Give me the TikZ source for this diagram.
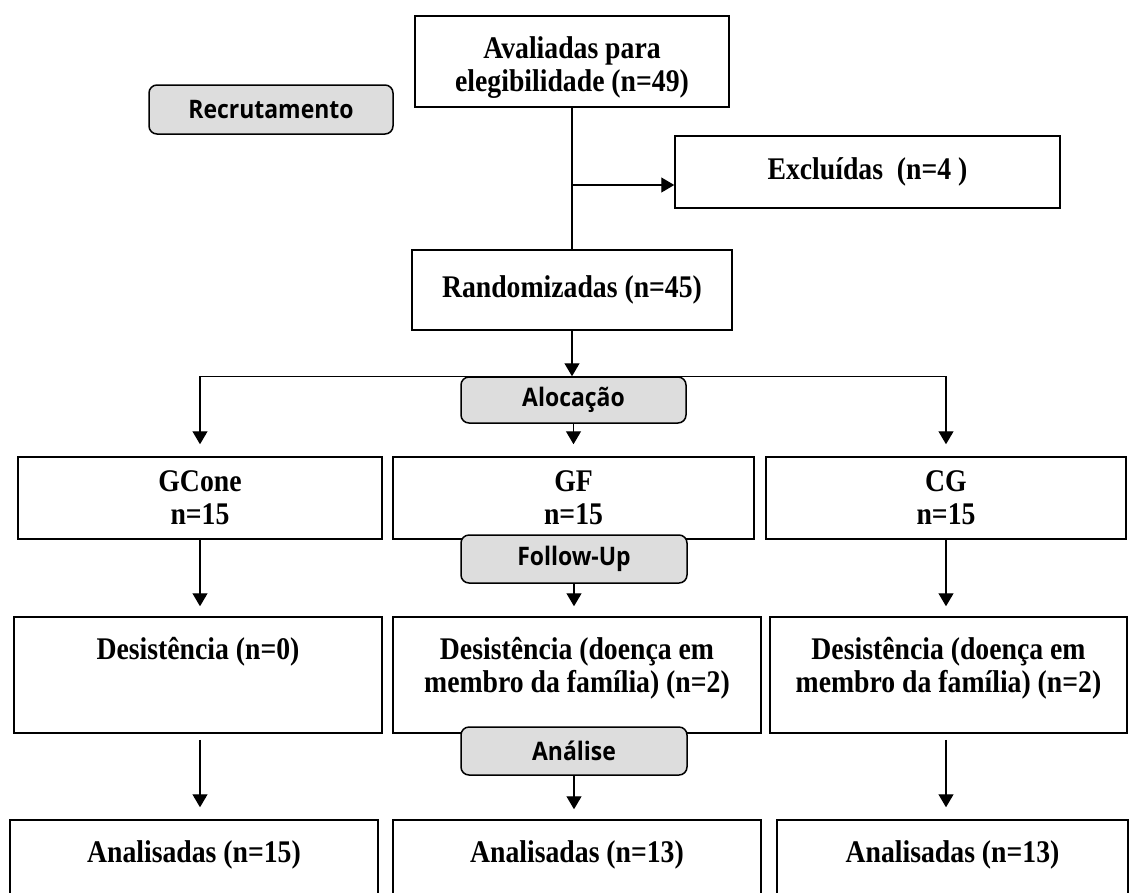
\documentclass[tikz,border=0pt]{standalone}
\usepackage{fontspec}
\setmainfont{Liberation Serif}[FakeStretch=0.88]
\newfontfamily\phasesf{Open Sans}[FakeStretch=0.9]
\usetikzlibrary{arrows.meta}
\definecolor{phasegray}{HTML}{DDDDDD}
\newcommand{\boxfont}{\fontsize{31.5}{33}\selectfont\bfseries}
\tikzset{
  box/.style={draw,line width=1.5pt,inner sep=0pt,font=\boxfont,align=center},
  toptext/.style={label={[font=\boxfont,align=center,inner sep=0pt,anchor=north,yshift=-21pt]north:{#1}}},
  phase/.style={draw,line width=1.5pt,rounded corners=8pt,fill=phasegray,inner sep=0pt,
    font=\phasesf\fontsize{25.5}{28}\selectfont\bfseries},
  link/.style={line width=1.3pt},
  arr/.style={link,-{Triangle[length=13pt,width=15pt]}},
}
\begin{document}
\begin{tikzpicture}[x=1pt,y=-1pt]
  \useasboundingbox (0,0) rectangle (1131,892);
  \clip (0,0) rectangle (1131,892);
  % boxes
  \node[box,minimum width=314pt,minimum height=91pt,
    toptext={Avaliadas para\\elegibilidade (n=49)}] (eleg) at (572,61.5) {};
  \node[box,minimum width=385pt,minimum height=72pt] (excl) at (867.5,172) {Excluídas\ \ (n=4~)};
  \node[box,minimum width=320pt,minimum height=80pt] (rand) at (572,290) {Randomizadas (n=45)};
  \node[box,minimum width=364pt,minimum height=82pt] (gcone) at (200,498) {GCone\\n=15};
  \node[box,minimum width=361pt,minimum height=82pt] (gf) at (573.5,498) {GF\\n=15};
  \node[box,minimum width=360pt,minimum height=82pt] (cg) at (946,498) {CG\\n=15};
  \node[box,minimum width=368pt,minimum height=116pt,
    toptext={Desistência (n=0)}] (des1) at (198,675) {};
  \node[box,minimum width=368pt,minimum height=116pt,
    toptext={Desistência (doença em\\membro da família) (n=2)}] (des2) at (577,675) {};
  \node[box,minimum width=357pt,minimum height=116pt,
    toptext={Desistência (doença em\\membro da família) (n=2)}] (des3) at (948.5,675) {};
  \node[box,minimum width=368pt,minimum height=110pt,
    toptext={Analisadas (n=15)}] (ana1) at (194,875) {};
  \node[box,minimum width=368pt,minimum height=110pt,
    toptext={Analisadas (n=13)}] (ana2) at (577,875) {};
  \node[box,minimum width=351pt,minimum height=110pt,
    toptext={Analisadas (n=13)}] (ana3) at (952.5,875) {};
  % phase labels
  \node[phase,minimum width=244pt,minimum height=49pt] (recr) at (271,109.5) {Recrutamento};
  \node[phase,minimum width=225pt,minimum height=46pt] (aloc) at (573.5,400) {Alocação};
  \node[phase,minimum width=226pt,minimum height=48pt] (fup) at (574,559) {Follow-Up};
  \node[phase,minimum width=226pt,minimum height=48pt] (anl) at (574,751) {Análise};
  % connectors
  \coordinate (split) at (572,185);
  \draw[link] (eleg.south) -- (rand.north);
  \draw[arr] (split) -- (split -| excl.west);
  \draw[arr] (rand.south) -- (rand.south |- aloc.north);
  \draw[arr,shorten >=12pt] (aloc.north) -| (gcone.north);
  \draw[arr,shorten >=12pt] (aloc.north) -| (cg.north);
  \draw[arr,shorten >=12pt] (aloc.south) -- (aloc.south |- gf.north);
  \draw[arr,shorten >=10pt] (gcone.south) -- (gcone.south |- des1.north);
  \draw[arr,shorten >=10pt] (fup.south) -- (fup.south |- des2.north);
  \draw[arr,shorten >=10pt] (cg.south) -- (cg.south |- des3.north);
  \draw[arr,shorten <=6pt,shorten >=12pt] (gcone.south |- des1.south) -- (gcone.south |- ana1.north);
  \draw[arr,shorten >=10pt] (anl.south) -- (anl.south |- ana2.north);
  \draw[arr,shorten <=6pt,shorten >=12pt] (cg.south |- des3.south) -- (cg.south |- ana3.north);
\end{tikzpicture}
\end{document}
